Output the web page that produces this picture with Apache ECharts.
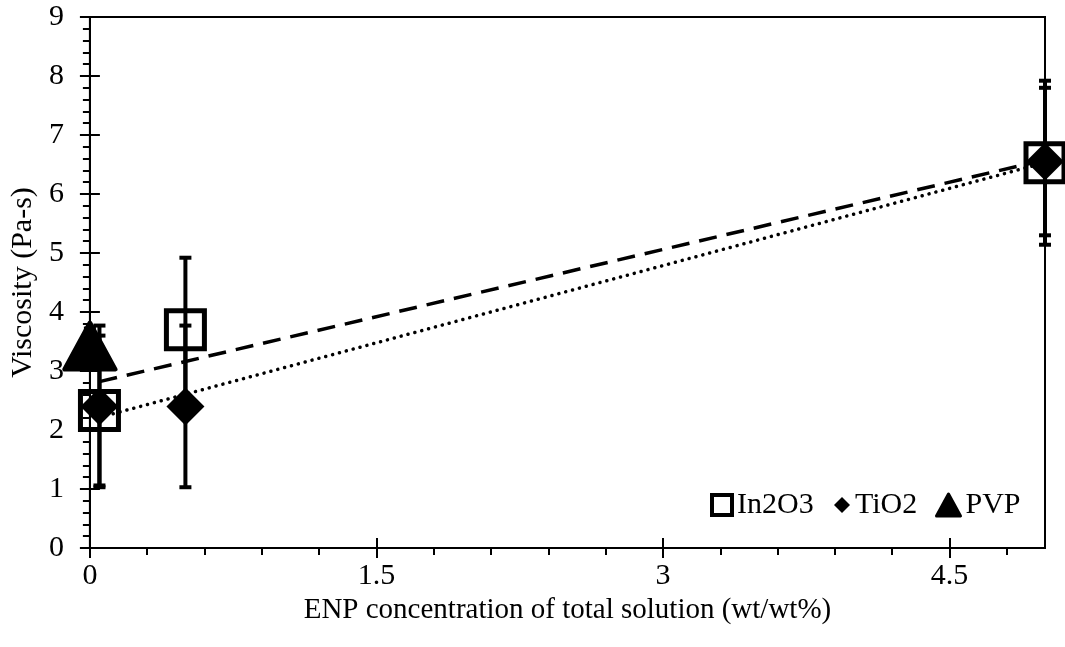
<!DOCTYPE html>
<html>
<head>
<meta charset="utf-8">
<script src="https://cdn.jsdelivr.net/npm/echarts@6/dist/echarts.min.js"></script>
<style>html,body{margin:0;padding:0;background:#fff}#c{width:1065px;height:647px}</style>
</head>
<body>
<div id="c"></div>
<script>
// ---- data ----
const xIn2O3 = [0.05, 0.5, 5];
const yIn2O3 = [2.33, 3.7, 6.53];
const errIn2O3 = [1.27, 1.22, 1.39];
const xTiO2 = [0.05, 0.5, 5];
const yTiO2 = [2.4, 2.4, 6.55];
const errTiO2 = [1.37, 1.37, 1.25];
const xPVP = [0];
const yPVP = [3.42];
const errPVP = [0.3];
const xTickValues = [0, 1.5, 3, 4.5];
const xMinorStep = 0.3;
const seriesNames = ['In2O3', 'TiO2', 'PVP'];
const xTitle = 'ENP concentration of total solution (wt/wt%)';
const yTitle = 'Viscosity (Pa-s)';

const FONT = 'Liberation Serif';
const pts = (xs, ys) => xs.map((x, i) => [x, ys[i]]);
function fit(xs, ys) {
  const n = xs.length;
  const mx = xs.reduce((a, b) => a + b, 0) / n;
  const my = ys.reduce((a, b) => a + b, 0) / n;
  let sxy = 0, sxx = 0;
  for (let i = 0; i < n; i++) { sxy += (xs[i] - mx) * (ys[i] - my); sxx += (xs[i] - mx) ** 2; }
  const b = sxy / sxx, a = my - b * mx;
  const x0 = Math.min(...xs), x1 = Math.max(...xs);
  return [[x0, a + b * x0], [x1, a + b * x1]];
}
const xMinorValues = [];
for (let k = 1; k * xMinorStep < 5 - 1e-9; k++) {
  const v = +(k * xMinorStep).toFixed(2);
  if (!xTickValues.some(t => Math.abs(t - v) < 1e-9)) xMinorValues.push(v);
}

function errSeries(xs, ys, es) {
  return {
    type: 'custom', clip: false, z: 2, silent: true,
    data: xs.map((x, i) => [x, ys[i], es[i]]),
    renderItem: function (params, api) {
      const x = api.value(0), y = api.value(1), e = api.value(2);
      const top = api.coord([x, y + e]);
      const bot = api.coord([x, y - e]);
      const hw = 6;
      const st = { stroke: '#000', lineWidth: 4 };
      return {
        type: 'group', children: [
          { type: 'line', shape: { x1: top[0], y1: top[1], x2: bot[0], y2: bot[1] }, style: st },
          { type: 'line', shape: { x1: top[0] - hw, y1: top[1], x2: top[0] + hw, y2: top[1] }, style: st },
          { type: 'line', shape: { x1: bot[0] - hw, y1: bot[1], x2: bot[0] + hw, y2: bot[1] }, style: st }
        ]
      };
    }
  };
}

const axisLineStyle = { color: '#000', width: 2 };
const chart = echarts.init(document.getElementById('c'));
chart.setOption({
  animation: false,
  backgroundColor: '#fff',
  textStyle: { fontFamily: FONT, color: '#000' },
  grid: { left: 87, right: 20, top: 17, bottom: 99, show: true, borderColor: '#000', borderWidth: 2, backgroundColor: 'transparent' },
  legend: [
    { data: [seriesNames[0]], left: 710, top: 490, padding: 0, itemWidth: 20, itemHeight: 20, icon: 'rect',
      itemStyle: { color: '#fff', borderColor: '#000', borderWidth: 4, opacity: 1 },
      textStyle: { fontFamily: FONT, fontSize: 30, color: '#000' } },
    { data: [seriesNames[1]], left: 834, top: 490, padding: 0, itemWidth: 16, itemHeight: 16, icon: 'diamond',
      itemStyle: { color: '#000', borderWidth: 0, opacity: 1 },
      textStyle: { fontFamily: FONT, fontSize: 30, color: '#000' } },
    { data: [seriesNames[2]], left: 935, top: 490, padding: 0, itemWidth: 24, itemHeight: 22, icon: 'triangle',
      itemStyle: { color: '#000', borderColor: '#000', borderWidth: 3, borderJoin: 'round', opacity: 1 },
      textStyle: { fontFamily: FONT, fontSize: 30, color: '#000' } }
  ],
  xAxis: [
    { type: 'value', min: 0, max: 5, position: 'bottom',
      name: xTitle, nameLocation: 'middle', nameGap: 45,
      nameTextStyle: { fontFamily: FONT, fontSize: 29, color: '#000' },
      axisLine: { show: true, onZero: false, lineStyle: axisLineStyle },
      axisTick: { show: true, length: 10, lineStyle: axisLineStyle, customValues: xTickValues },
      axisLabel: { fontFamily: FONT, fontSize: 30, color: '#000', margin: 13, customValues: xTickValues },
      splitLine: { show: false } },
    { type: 'value', min: 0, max: 5, position: 'bottom',
      axisLine: { show: false }, axisLabel: { show: false }, splitLine: { show: false },
      axisTick: { show: true, inside: true, length: 10, lineStyle: axisLineStyle, customValues: xTickValues } },
    { type: 'value', min: 0, max: 5, position: 'bottom',
      axisLine: { show: false }, axisLabel: { show: false }, splitLine: { show: false },
      axisTick: { show: true, length: 7, lineStyle: axisLineStyle, customValues: xMinorValues } }
  ],
  yAxis: [
    { type: 'value', min: 0, max: 9, interval: 1, position: 'left',
      name: yTitle, nameLocation: 'middle', nameGap: 49,
      nameTextStyle: { fontFamily: FONT, fontSize: 30, color: '#000' },
      axisLine: { show: true, onZero: false, lineStyle: axisLineStyle },
      axisTick: { show: true, length: 10, lineStyle: axisLineStyle },
      minorTick: { show: true, splitNumber: 5, length: 7, lineStyle: axisLineStyle },
      axisLabel: { fontFamily: FONT, fontSize: 30, color: '#000', margin: 26 },
      splitLine: { show: false } },
    { type: 'value', min: 0, max: 9, interval: 1, position: 'left',
      axisLine: { show: false }, axisLabel: { show: false }, splitLine: { show: false },
      axisTick: { show: true, inside: true, length: 10, lineStyle: axisLineStyle } }
  ],
  series: [
    errSeries(xIn2O3, yIn2O3, errIn2O3),
    errSeries(xTiO2, yTiO2, errTiO2),
    errSeries(xPVP, yPVP, errPVP),
    { type: 'line', data: fit(xIn2O3, yIn2O3), symbol: 'none', silent: true, z: 3,
      lineStyle: { color: '#000', width: 3.5, type: [18, 10], opacity: 1 } },
    { type: 'line', data: fit(xTiO2, yTiO2), symbol: 'none', silent: true, z: 3,
      lineStyle: { color: '#000', width: 3.5, type: [0.1, 7], cap: 'round', opacity: 1 } },
    { name: seriesNames[0], type: 'scatter', clip: false, z: 4, data: pts(xIn2O3, yIn2O3),
      symbol: 'rect', symbolSize: 38,
      itemStyle: { color: 'rgba(0,0,0,0)', borderColor: '#000', borderWidth: 5, opacity: 1 } },
    { name: seriesNames[1], type: 'scatter', clip: false, z: 5, data: pts(xTiO2, yTiO2),
      symbol: 'diamond', symbolSize: 38, itemStyle: { color: '#000', opacity: 1 } },
    { name: seriesNames[2], type: 'scatter', clip: false, z: 5, data: pts(xPVP, yPVP),
      symbol: 'triangle', symbolSize: [50, 46],
      itemStyle: { color: '#000', borderColor: '#000', borderWidth: 5, borderJoin: 'round', opacity: 1 } }
  ]
});
</script>
</body>
</html>
